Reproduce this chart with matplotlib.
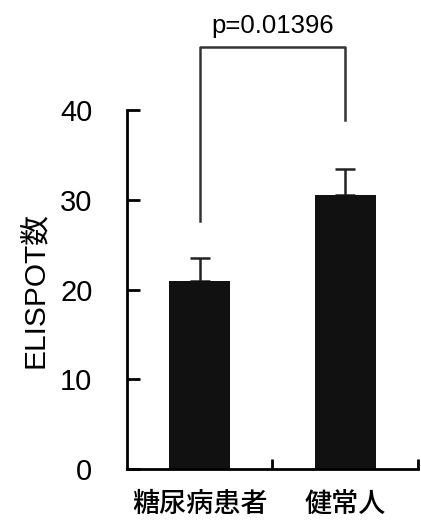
import numpy as np
import matplotlib
matplotlib.use('Agg')
import matplotlib.pyplot as plt

plt.rcParams['font.family'] = ['Liberation Sans', 'Noto Sans CJK JP', 'DejaVu Sans']

### Data
groups = ['糖尿病患者', '健常人']
means  = [21.0, 30.6]
errs   = [2.5, 2.9]
p_text = 'p=0.01396'
y_ticks = [0, 10, 20, 30, 40]

### Figure
fig = plt.figure(figsize=(4.21, 5.2), dpi=100)
ax = fig.add_axes([0.302, 0.098, 0.690, 0.690])

x = np.arange(len(groups))
ax.bar(x, means, width=0.42, color='#111111', zorder=2)
ax.errorbar(x, means, yerr=[np.zeros(len(errs)), errs], fmt='none',
            ecolor='#222222', elinewidth=1.8, capsize=7, capthick=1.8, zorder=1)

ax.set_xlim(-0.5, 1.5)
ax.set_ylim(0, 40)

for s in ['top', 'right']:
    ax.spines[s].set_visible(False)
for s in ['left', 'bottom']:
    ax.spines[s].set_linewidth(2)

ax.set_yticks(y_ticks)
ax.tick_params(axis='y', direction='in', length=9, width=2, labelsize=21, pad=25)
ax.set_xticks(x)
ax.set_xticklabels(groups, fontsize=19.5, fontweight='medium',
                   family=['Noto Sans CJK JP', 'DejaVu Sans'])
ax.tick_params(axis='x', length=0, pad=16)
ax.set_xticks([0.5, 1.5], minor=True)
ax.tick_params(axis='x', which='minor', direction='in', length=7, width=2)

ax.set_ylabel('ELISPOT数', fontsize=21.5, labelpad=8,
              family=['Liberation Sans', 'Noto Sans CJK JP'])

## Significance bracket
y_top = 47.1
ax.plot([0, 0, 1, 1], [27.7, y_top, y_top, 38.9], color='#333333',
        lw=1.8, clip_on=False)
ax.text(0.5, y_top + 1.0, p_text, ha='center', va='bottom', fontsize=18.5)

fig.savefig('out.png', dpi=100)
